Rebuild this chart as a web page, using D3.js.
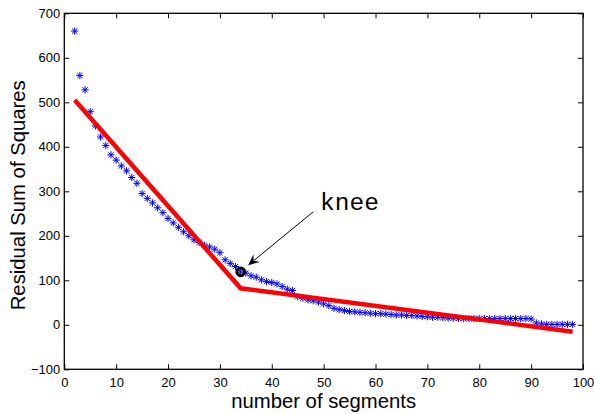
<!DOCTYPE html>
<html>
<head>
<meta charset="utf-8">
<script src="https://cdn.jsdelivr.net/npm/d3@7"></script>
<style>
  html, body { margin: 0; padding: 0; background: #fff; }
</style>
</head>
<body>
<div id="chart"></div>
<script>
// number of segments for each residual value
const segments = d3.range(2, 99);
// residual sum of squares (x = 2..98)
const rss = [
  660, 560, 528, 479, 447, 422, 403, 382, 370, 357,
  346, 331, 318, 295, 284, 274, 263, 252, 239, 229,
  219, 209, 200, 191, 185, 179, 175, 170, 162, 146,
  138, 131, 119, 116, 110, 107, 101, 97, 95, 92,
  86, 80, 77, 63, 60, 56, 54, 51, 47, 43,
  37, 34, 32, 30, 29, 28, 27, 26, 25, 25,
  24, 23, 22, 22, 21, 21, 20, 19, 18, 17,
  17, 16, 15, 15, 14, 14, 14, 14, 14, 14,
  14, 14, 14, 14, 14, 14, 14, 14, 13, 4,
  2, 1, 1, 1, 1, 1, 1
];
// two-segment fit
const fitX = [2, 34, 98];
const fitY = [505, 82, -15.5];
// knee point and its annotation
const knee = { x: 34, y: 119 };
const arrowTail = { x: 48, y: 254 };
const arrowTip = { x: 35.45, y: 134 };
const kneeLabel = { x: 49.3, y: 258, text: 'knee' };

const xTicks = d3.range(0, 101, 10);
const yTicks = d3.range(-100, 701, 100);

const sans = '"Liberation Sans", Arial, Helvetica, sans-serif';
const mono = '"Liberation Mono", "Courier New", Courier, monospace';

const width = 594, height = 414;
const margin = { top: 13.3, right: 11, bottom: 44.7, left: 64.3 };
const w = width - margin.left - margin.right;
const h = height - margin.top - margin.bottom;

const svg = d3.select('#chart').append('svg')
  .attr('width', width)
  .attr('height', height);

const g = svg.append('g')
  .attr('transform', `translate(${margin.left},${margin.top})`);

const x = d3.scaleLinear().domain([0, 100]).range([0, w]);
const y = d3.scaleLinear().domain([-100, 700]).range([h, 0]);

// axes with inward ticks on every side (box on)
const tickLen = 5;
g.append('g')
  .attr('transform', `translate(0,${h})`)
  .call(d3.axisBottom(x).tickValues(xTicks).tickSizeInner(-tickLen).tickSizeOuter(0).tickPadding(8))
  .call(a => a.selectAll('text').style('font-family', sans).attr('font-size', 13).attr('fill', '#000'));
g.append('g')
  .call(d3.axisTop(x).tickValues(xTicks).tickSizeInner(-tickLen).tickSizeOuter(0))
  .call(a => a.selectAll('text').remove());
g.append('g')
  .call(d3.axisLeft(y).tickValues(yTicks).tickSizeInner(-tickLen).tickSizeOuter(0).tickPadding(4)
    .tickFormat(d => d < 0 ? '\u2212' + Math.abs(d) : d))
  .call(a => a.selectAll('text').style('font-family', sans).attr('font-size', 13).attr('fill', '#000'));
g.append('g')
  .attr('transform', `translate(${w},0)`)
  .call(d3.axisRight(y).tickValues(yTicks).tickSizeInner(-tickLen).tickSizeOuter(0))
  .call(a => a.selectAll('text').remove());
g.selectAll('.domain').remove();
g.selectAll('.tick line').attr('stroke', '#000').attr('stroke-width', 1);

g.append('rect')
  .attr('width', w)
  .attr('height', h)
  .attr('fill', 'none')
  .attr('stroke', '#000')
  .attr('stroke-width', 1.3);

// asterisk markers
const r = 3.6, d = 2.6;
g.append('g')
  .selectAll('path')
  .data(segments)
  .enter()
  .append('path')
  .attr('d', (s, i) => {
    const px = x(s), py = y(rss[i]);
    return `M${px - r},${py}L${px + r},${py}M${px},${py - r}L${px},${py + r}` +
      `M${px - d},${py - d}L${px + d},${py + d}M${px - d},${py + d}L${px + d},${py - d}`;
  })
  .attr('fill', 'none')
  .attr('stroke', '#0000ff')
  .attr('stroke-width', 1);

// fitted line
g.append('path')
  .datum(fitX.map((v, i) => [v, fitY[i]]))
  .attr('d', d3.line().x(p => x(p[0])).y(p => y(p[1])))
  .attr('fill', 'none')
  .attr('stroke', '#ff0000')
  .attr('stroke-width', 4.5)
  .attr('stroke-linejoin', 'miter');

// knee marker
g.append('circle')
  .attr('cx', x(knee.x))
  .attr('cy', y(knee.y))
  .attr('r', 3.8)
  .attr('fill', 'none')
  .attr('stroke', '#000')
  .attr('stroke-width', 3);

// arrow
const tx = x(arrowTip.x), ty = y(arrowTip.y);
const sx = x(arrowTail.x), sy = y(arrowTail.y);
const ang = Math.atan2(ty - sy, tx - sx);
const headLen = 11, headW = 5, notch = 7;
const bx = tx - headLen * Math.cos(ang), by = ty - headLen * Math.sin(ang);
const nx = tx - notch * Math.cos(ang), ny = ty - notch * Math.sin(ang);
const ox = -Math.sin(ang) * headW, oy = Math.cos(ang) * headW;
g.append('line')
  .attr('x1', sx).attr('y1', sy)
  .attr('x2', nx).attr('y2', ny)
  .attr('stroke', '#000')
  .attr('stroke-width', 1);
g.append('path')
  .attr('d', `M${tx},${ty}L${bx + ox},${by + oy}L${nx},${ny}L${bx - ox},${by - oy}Z`)
  .attr('fill', '#000');

g.append('text')
  .attr('x', x(kneeLabel.x))
  .attr('y', y(kneeLabel.y))
  .style('font-family', mono)
  .attr('font-size', 24.5)
  .attr('fill', '#000')
  .text(kneeLabel.text);

// axis labels
svg.append('text')
  .attr('x', margin.left + w / 2)
  .attr('y', 407.5)
  .attr('text-anchor', 'middle')
  .style('font-family', sans)
  .attr('font-size', 20.3)
  .text('number of segments');

svg.append('text')
  .attr('transform', `translate(25,${margin.top + h / 2 + 4}) rotate(-90)`)
  .attr('text-anchor', 'middle')
  .style('font-family', sans)
  .attr('font-size', 20.3)
  .text('Residual Sum of Squares');
</script>
</body>
</html>
